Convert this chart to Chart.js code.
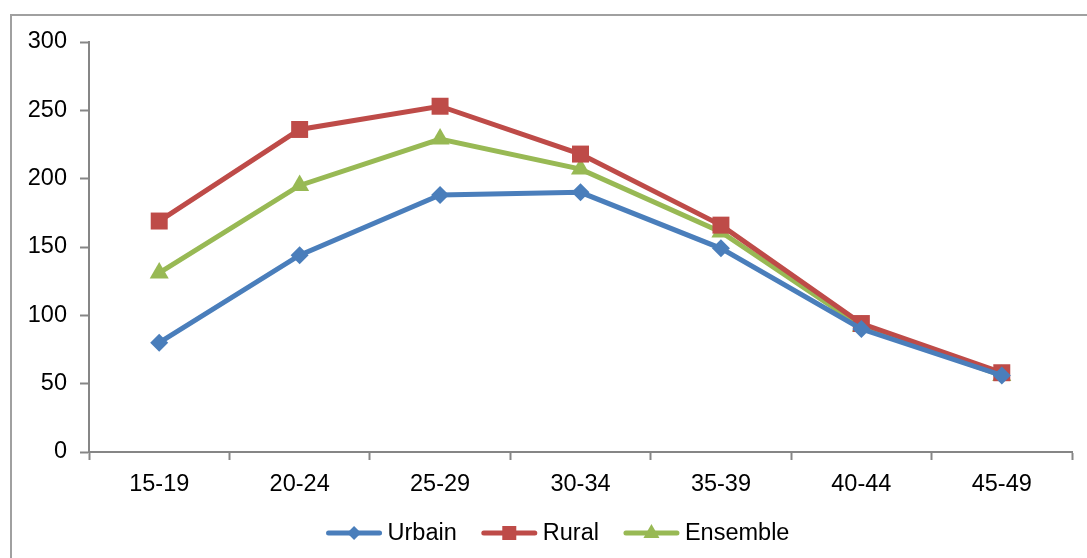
<!DOCTYPE html>
<html lang="fr">
<head>
    <meta charset="UTF-8">
    <title>Urbain / Rural / Ensemble</title>
    <script src="https://cdn.jsdelivr.net/npm/chart.js"></script>
    <style>
        html, body { margin: 0; padding: 0; background: #fff; }
        #wrap { width: 1087px; height: 558px; position: relative; }
    </style>
</head>
<body>
    <div id="wrap"><canvas id="lineChart" width="1087" height="558"></canvas></div>

    <script>
        // Data
        const ageGroups = ['15-19', '20-24', '25-29', '30-34', '35-39', '40-44', '45-49'];
        const urbain = [80, 144, 188, 190, 149, 90, 56];
        const rural = [169, 236, 253, 218, 166, 94, 58];
        const ensemble = [131, 195, 229, 207, 161, 92, 56];
        const yTicks = [0, 50, 100, 150, 200, 250, 300];

        const axisGrey = '#868686';
        const font = { family: 'Liberation Sans, Arial, sans-serif', size: 23.5 };

        // Frame round the whole chart and an Excel-style legend (line + marker)
        const framePlugin = {
            id: 'frame',
            beforeDraw(chart) {
                const ctx = chart.ctx;
                ctx.save();
                ctx.strokeStyle = '#a0a0a0';
                ctx.lineWidth = 2;
                ctx.strokeRect(11, 15, chart.width + 20, chart.height + 20);
                ctx.restore();
            },
            afterDraw(chart) {
                const ctx = chart.ctx;
                ctx.save();
                ctx.font = font.size + 'px ' + font.family;
                ctx.textBaseline = 'middle';
                const y = 533;
                const lineLen = 55, textGap = 6, itemGap = 25;
                const items = chart.data.datasets.map(ds => ({ ds, w: lineLen + textGap + ctx.measureText(ds.label).width }));
                const total = items.reduce((s, it) => s + it.w, 0) + itemGap * (items.length - 1);
                let x = 558 - total / 2;
                items.forEach(({ ds, w }) => {
                    ctx.strokeStyle = ds.borderColor;
                    ctx.lineWidth = 5;
                    ctx.lineCap = 'round';
                    ctx.beginPath();
                    ctx.moveTo(x + 2, y);
                    ctx.lineTo(x + lineLen - 2, y);
                    ctx.stroke();
                    drawMarker(ctx, ds.pointStyle, x + lineLen / 2, y, ds.borderColor);
                    ctx.fillStyle = '#000';
                    ctx.fillText(ds.label, x + lineLen + textGap, y + 1);
                    x += w + itemGap;
                });
                ctx.restore();
            }
        };

        function drawMarker(ctx, style, x, y, color) {
            ctx.fillStyle = color;
            ctx.beginPath();
            if (style === 'rect') {
                ctx.rect(x - 7, y - 7, 14, 14);
            } else if (style === 'rectRot') {
                ctx.moveTo(x, y - 7); ctx.lineTo(x + 7, y); ctx.lineTo(x, y + 7); ctx.lineTo(x - 7, y);
            } else {
                ctx.moveTo(x, y - 9); ctx.lineTo(x + 8, y + 5); ctx.lineTo(x - 8, y + 5);
            }
            ctx.closePath();
            ctx.fill();
        }

        const ctx = document.getElementById('lineChart').getContext('2d');
        new Chart(ctx, {
            type: 'line',
            data: {
                labels: ageGroups,
                datasets: [
                    {
                        label: 'Urbain',
                        data: urbain,
                        borderColor: '#4A7EBB',
                        backgroundColor: '#4A7EBB',
                        borderWidth: 5,
                        pointStyle: 'rectRot',
                        pointRadius: 9,
                        pointBorderWidth: 0
                    },
                    {
                        label: 'Rural',
                        data: rural,
                        borderColor: '#BE4B48',
                        backgroundColor: '#BE4B48',
                        borderWidth: 5,
                        pointStyle: 'rect',
                        pointRadius: 12,
                        pointBorderWidth: 0
                    },
                    {
                        label: 'Ensemble',
                        data: ensemble,
                        borderColor: '#98B954',
                        backgroundColor: '#98B954',
                        borderWidth: 5,
                        pointStyle: 'triangle',
                        pointRadius: 11,
                        pointBorderWidth: 0
                    }
                ]
            },
            options: {
                responsive: false,
                animation: false,
                layout: { padding: { left: 0, right: 15, top: 42, bottom: 0 } },
                plugins: {
                    legend: { display: false },
                    tooltip: { enabled: false }
                },
                scales: {
                    x: {
                        offset: true,
                        grid: {
                            offset: true,
                            drawOnChartArea: false,
                            tickLength: 8,
                            tickColor: axisGrey,
                            tickWidth: 2
                        },
                        border: { color: axisGrey, width: 2 },
                        ticks: { color: '#000', font: font, padding: 10, maxRotation: 0 },
                        afterFit(scale) { scale.height = 106; }
                    },
                    y: {
                        min: 0,
                        max: 300,
                        afterBuildTicks(scale) { scale.ticks = yTicks.map(v => ({ value: v })); },
                        grid: {
                            drawOnChartArea: false,
                            tickLength: 9,
                            tickColor: axisGrey,
                            tickWidth: 2
                        },
                        border: { color: axisGrey, width: 2 },
                        ticks: { color: '#000', font: font, padding: 13 },
                        afterFit(scale) { scale.width = 89; }
                    }
                }
            },
            plugins: [framePlugin]
        });
    </script>
</body>
</html>
